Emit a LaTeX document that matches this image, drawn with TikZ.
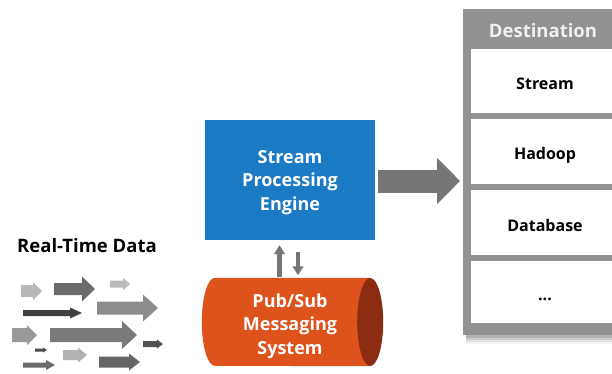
\documentclass[tikz,border=0pt]{standalone}
\usepackage{fontspec}
\setmainfont{Open Sans}
\usetikzlibrary{arrows.meta,calc}

\definecolor{engineblue}{RGB}{27,122,196}
\definecolor{pubred}{RGB}{222,82,28}
\definecolor{capred}{RGB}{140,44,16}
\definecolor{framegrey}{RGB}{146,146,146}
\definecolor{linkgrey}{RGB}{118,118,118}
\definecolor{headtext}{RGB}{240,240,240}

% block arrow: colour, x start, x tip, y centre, shaft half-height, head half-height, head length
\newcommand{\fatarrow}[7]{%
  \fill[#1] (#2,#4-#5) -- (#3-#7,#4-#5) -- (#3-#7,#4-#6) -- (#3,#4)
    -- (#3-#7,#4+#6) -- (#3-#7,#4+#5) -- (#2,#4+#5) -- cycle;}

\tikzset{
  celltext/.style={font=\bfseries\fontsize{16}{19}\selectfont, text=black},
  destcell/.style={fill=white, minimum width=148pt, inner sep=0pt,
                   text height=17pt, text depth=0pt, celltext},
  boxtext/.style={font=\bfseries\fontsize{18}{23.5}\selectfont, text=white, align=center},
  vlink/.style={draw=linkgrey, line width=4.5pt, -{Triangle[width=10.5pt,length=9pt]}},
  biglink/.style={draw=linkgrey, line width=23pt, -{Triangle[width=45pt,length=23pt]}},
}

\begin{document}
\begin{tikzpicture}[x=1pt, y=-1pt]
\useasboundingbox (0,0) rectangle (612,374);
\fill[white] (0,0) rectangle (612,374);

% soft shadow under the destination panel
\foreach \s/\o in {9/0.05, 7/0.07, 5/0.09, 3/0.12}
  \fill[black, opacity=\o] (466,12+\s) rectangle (630,335+\s);

% destination panel
\node[fill=framegrey, minimum width=166pt, minimum height=326pt, inner sep=0pt,
      anchor=north west] (dest) at (463,9) {};
\node[font=\bfseries\fontsize{18.5}{22}\selectfont, text=headtext] (dtitle) at (543,31) {Destination};
\node[destcell, minimum height=64pt] (dstream) at (545,81) {Stream};
\node[destcell, minimum height=65pt] (dhadoop) at (545,151.5) {Hadoop};
\node[destcell, minimum height=65pt] (ddb) at (545,222.5) {Database};
\node[destcell, minimum height=62pt] (dmore) at (545,292) {...};

% stream processing engine
\node[fill=engineblue, minimum width=170pt, minimum height=120pt, inner sep=0pt]
      (engine) at (290,180) {};
\node[boxtext] (enginetext) at (290,182.5) {Stream\\Processing\\Engine};

% pub/sub cylinder
\node[minimum width=155pt, minimum height=88pt, inner sep=0pt] (pubsub) at (292.5,322) {};
\fill[pubred] (pubsub.north east) -- (pubsub.north west)
  arc[start angle=90, end angle=270, x radius=13pt, y radius=44pt]
  -- (pubsub.south east) -- cycle;
\fill[capred] (pubsub.east) ellipse [x radius=13pt, y radius=44pt];
\node[boxtext, text depth=0pt] (pubtext) at (290,324) {Pub/Sub\\Messaging\\System};

% links
\draw[vlink] ($(pubsub.north)+(-13,-1)$) -- ($(engine.south)+(-10.5,5)$);
\draw[vlink] ($(engine.south)+(8,12)$) -- ($(pubsub.north)+(5.5,-2.5)$);
\draw[biglink] ($(engine.east)+(3,1)$) -- ($(engine.east -| dest.west)+(-3,1)$);

% real-time data
\node[font=\bfseries\fontsize{18.5}{22}\selectfont] (rtd) at (87,246) {Real-Time Data};
\fatarrow{black!28}{21}{42}{291}{6}{9}{9}
\fatarrow{black!58}{54}{95}{289}{6}{12.5}{13}
\fatarrow{black!27}{110}{130}{284}{3.5}{6}{7}
\fatarrow{black!75}{23}{82}{313}{3}{5.5}{12}
\fatarrow{black!45}{97}{158}{308}{6.5}{13.5}{15}
\fatarrow{black!40}{12}{37}{335}{7}{10}{10}
\fatarrow{black!52}{50}{137}{335}{7}{14}{15}
\fatarrow{black!68}{143}{163}{344}{3}{4.5}{6}
\fatarrow{black!70}{35}{47}{350}{1.5}{2.5}{4}
\fatarrow{black!30}{63}{87}{355}{5}{7.5}{9}
\fatarrow{black!58}{23}{55}{365}{2.5}{5}{9}
\fatarrow{black!60}{99}{140}{362}{5.5}{8.5}{11}
\end{tikzpicture}
\end{document}
